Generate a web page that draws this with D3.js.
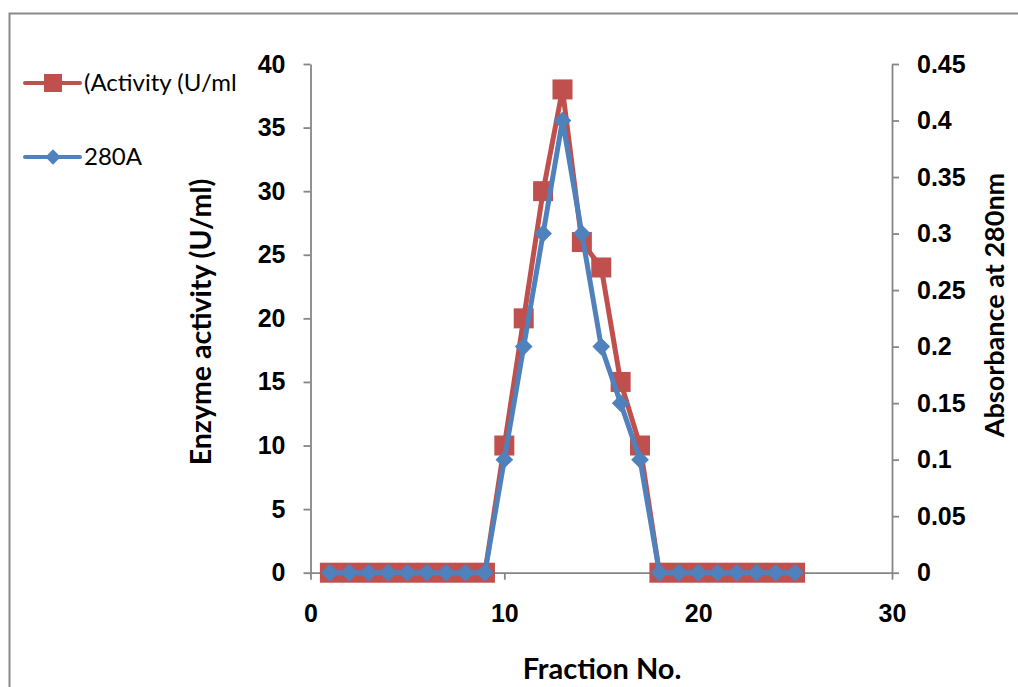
<!DOCTYPE html>
<html>
<head>
<meta charset="utf-8">
<script src="https://cdnjs.cloudflare.com/ajax/libs/d3/7.8.5/d3.min.js"></script>
<style>
  body { margin: 0; background: #fff; }
  svg { display: block; }
</style>
</head>
<body>
<div id="chart"></div>
<script>
// chart data
var fractions = [1, 2, 3, 4, 5, 6, 7, 8, 9, 10, 11, 12, 13, 14, 15, 16, 17, 18, 19, 20, 21, 22, 23, 24, 25]
var activity = [0, 0, 0, 0, 0, 0, 0, 0, 0, 10, 20, 30, 38, 26, 24, 15, 10, 0, 0, 0, 0, 0, 0, 0, 0]
var absorbance = [0, 0, 0, 0, 0, 0, 0, 0, 0, 0.1, 0.2, 0.3, 0.4, 0.3, 0.2, 0.15, 0.1, 0, 0, 0, 0, 0, 0, 0, 0]

var xTicks = [0, 10, 20, 30]
var leftTicks = [0, 5, 10, 15, 20, 25, 30, 35, 40]
var rightTicks = [0, 0.05, 0.1, 0.15, 0.2, 0.25, 0.3, 0.35, 0.4, 0.45]
var seriesNames = ['(Activity (U/ml', '280A']

var W = 1018, H = 687
var margin = { top: 64, right: 126, bottom: 114, left: 310.5 }
var w = 892 - margin.left
var h = 572.7 - margin.top

var red = '#C0504D', blue = '#4F81BD', axisGrey = '#868686'
var tickFont = '"Liberation Sans", Arial, sans-serif'
var titleFont = 'Lato, "Open Sans", sans-serif'

var svg = d3.select('#chart').append('svg')
  .attr('width', W)
  .attr('height', H)

// outer chart frame (runs off the right and bottom of the picture)
svg.append('rect')
  .attr('x', 9.5).attr('y', 13.5)
  .attr('width', 1100).attr('height', 800)
  .attr('fill', 'none')
  .attr('stroke', '#8a8a8a')
  .attr('stroke-width', 2)

var g = svg.append('g')
  .attr('transform', 'translate(' + margin.left + ',' + margin.top + ')')

var x = d3.scaleLinear().domain([0, 30]).range([0, w])
var yL = d3.scaleLinear().domain([0, 40]).range([h, 0])
var yR = d3.scaleLinear().domain([0, 0.45]).range([h, 0])

function styleAxis(sel) {
  sel.select('.domain').attr('stroke', axisGrey).attr('stroke-width', 1.8)
  sel.selectAll('.tick line').attr('stroke', axisGrey).attr('stroke-width', 1.8)
  sel.selectAll('.tick text')
    .attr('fill', '#000')
    .style('font-family', tickFont)
    .style('font-weight', 'bold')
    .style('font-size', '25px')
}

g.append('g')
  .attr('transform', 'translate(0,' + h + ')')
  .call(d3.axisBottom(x).tickValues(xTicks).tickSize(7).tickSizeOuter(0).tickPadding(25))
  .call(styleAxis)

g.append('g')
  .call(d3.axisLeft(yL).tickValues(leftTicks).tickSize(7).tickSizeOuter(0).tickPadding(18))
  .call(styleAxis)

g.append('g')
  .attr('transform', 'translate(' + w + ',0)')
  .call(d3.axisRight(yR).tickValues(rightTicks).tickSize(7).tickSizeOuter(0).tickPadding(18)
    .tickFormat(function(d) { return String(+d.toFixed(2)) }))
  .call(styleAxis)

// axis titles
svg.append('text')
  .attr('x', 602).attr('y', 679)
  .attr('text-anchor', 'middle')
  .style('font-family', titleFont).style('font-weight', 'bold').style('font-size', '29px')
  .text('Fraction No.')

svg.append('text')
  .attr('transform', 'translate(211,322) rotate(-90)')
  .attr('text-anchor', 'middle')
  .style('font-family', titleFont).style('font-weight', 'bold').style('font-size', '28.5px')
  .text('Enzyme activity (U/ml)')

svg.append('text')
  .attr('transform', 'translate(1004,305) rotate(-90)')
  .attr('text-anchor', 'middle')
  .style('font-family', titleFont).style('font-weight', 'bold').style('font-size', '27px')
  .text('Absorbance at 280nm')

// series
var lineL = d3.line().x(function(d, i) { return x(fractions[i]) }).y(function(d) { return yL(d) })
var lineR = d3.line().x(function(d, i) { return x(fractions[i]) }).y(function(d) { return yR(d) })

g.append('path')
  .datum(activity)
  .attr('d', lineL)
  .attr('fill', 'none').attr('stroke', red).attr('stroke-width', 5)
  .attr('stroke-linejoin', 'round')

g.selectAll('.sq')
  .data(activity)
  .enter().append('rect')
  .attr('class', 'sq')
  .attr('x', function(d, i) { return x(fractions[i]) - 10 })
  .attr('y', function(d) { return yL(d) - 10 })
  .attr('width', 20).attr('height', 20)
  .attr('fill', red)

var diamond = d3.symbol().type(d3.symbolDiamond2).size(200)

g.append('path')
  .datum(absorbance)
  .attr('d', lineR)
  .attr('fill', 'none').attr('stroke', blue).attr('stroke-width', 5)
  .attr('stroke-linejoin', 'round')

g.selectAll('.dm')
  .data(absorbance)
  .enter().append('path')
  .attr('class', 'dm')
  .attr('d', diamond)
  .attr('transform', function(d, i) { return 'translate(' + x(fractions[i]) + ',' + yR(d) + ')' })
  .attr('fill', blue)

// legend
var legend = svg.append('g')
var legY = [83, 157]
var legColors = [red, blue]

legend.selectAll('line')
  .data(seriesNames)
  .enter().append('line')
  .attr('x1', 25).attr('x2', 80)
  .attr('y1', function(d, i) { return legY[i] })
  .attr('y2', function(d, i) { return legY[i] })
  .attr('stroke', function(d, i) { return legColors[i] })
  .attr('stroke-width', 4)
  .attr('stroke-linecap', 'round')

legend.append('rect')
  .attr('x', 44).attr('y', legY[0] - 9)
  .attr('width', 18).attr('height', 18)
  .attr('fill', red)

legend.append('path')
  .attr('d', d3.symbol().type(d3.symbolDiamond2).size(150))
  .attr('transform', 'translate(53,' + legY[1] + ')')
  .attr('fill', blue)

legend.selectAll('text')
  .data(seriesNames)
  .enter().append('text')
  .attr('x', 84)
  .attr('y', function(d, i) { return legY[i] + 8 })
  .style('font-family', titleFont).style('font-size', '24px')
  .attr('fill', '#000')
  .text(function(d) { return d })
</script>
</body>
</html>
